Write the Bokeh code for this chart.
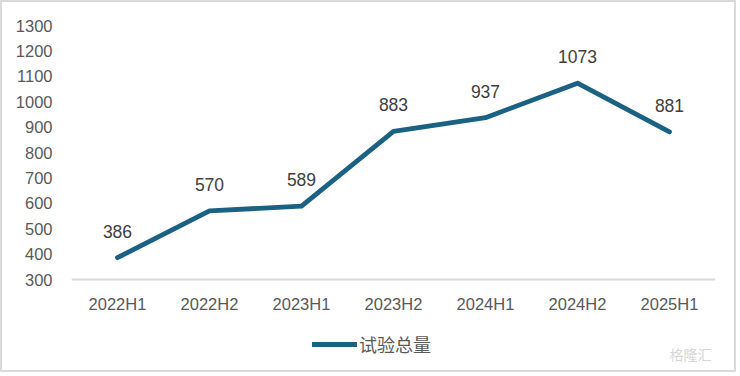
from bokeh.plotting import figure
from bokeh.models import ColumnDataSource, Range1d, LabelSet, Legend, LegendItem, Label
from bokeh.core.properties import value
from bokeh.embed import file_html
from bokeh.resources import INLINE

categories = ["2022H1", "2022H2", "2023H1", "2023H2", "2024H1", "2024H2", "2025H1"]
values = [386, 570, 589, 883, 937, 1073, 881]
series_name = "试验总量"
y_ticks = list(range(300, 1301, 100))

src = ColumnDataSource(dict(x=categories, y=values, lab=[str(v) for v in values]))

p = figure(width=736, height=372, x_range=categories, y_range=Range1d(-74, 1300),
           output_backend="svg", toolbar_location=None,
           min_border_left=69, min_border_right=23, min_border_top=23, min_border_bottom=0)
p.styles = {"border": "2px solid #d9d9d9"}
p.x_range.range_padding = 0
p.outline_line_color = None
p.grid.visible = False

line = p.line("x", "y", source=src, line_color="#1b6183", line_width=4.8,
              line_join="round", line_cap="round")

labels = LabelSet(x="x", y="y", text="lab", source=src, text_align="center",
                  text_baseline="alphabetic", y_offset=20,
                  text_font=value("Liberation Sans"), text_font_size="17.5px", text_color="#404040")
p.add_layout(labels)

p.yaxis.ticker = y_ticks
p.yaxis.axis_line_color = None
p.yaxis.major_tick_line_color = None
p.yaxis.minor_tick_line_color = None
p.yaxis.major_label_standoff = 13
p.xaxis.fixed_location = 300
p.xaxis.axis_line_color = "#d9d9d9"
p.xaxis.axis_line_width = 2
p.xaxis.major_tick_line_color = None
p.xaxis.minor_tick_line_color = None
p.xaxis.major_label_standoff = 9
for ax in (p.xaxis, p.yaxis):
    ax.major_label_text_font = "Liberation Sans"
    ax.major_label_text_font_size = "16.5px"
    ax.major_label_text_color = "#595959"

legend = Legend(items=[LegendItem(label=series_name, renderers=[line])], location=(241, 17),
                orientation="horizontal", padding=0, margin=0, glyph_width=45, glyph_height=22,
                label_standoff=2, border_line_color=None, background_fill_alpha=0,
                label_text_font="Noto Sans CJK SC", label_text_font_size="18px",
                label_text_color="#595959")
p.add_layout(legend, "center")

wm = Label(x=598, y=21, x_units="screen", y_units="screen", text="格隆汇",
           text_baseline="middle", text_font="Noto Sans CJK SC",
           text_font_size="14px", text_color="#d6d6d6")
p.add_layout(wm)

open("out.html", "w").write(file_html(p, INLINE))
